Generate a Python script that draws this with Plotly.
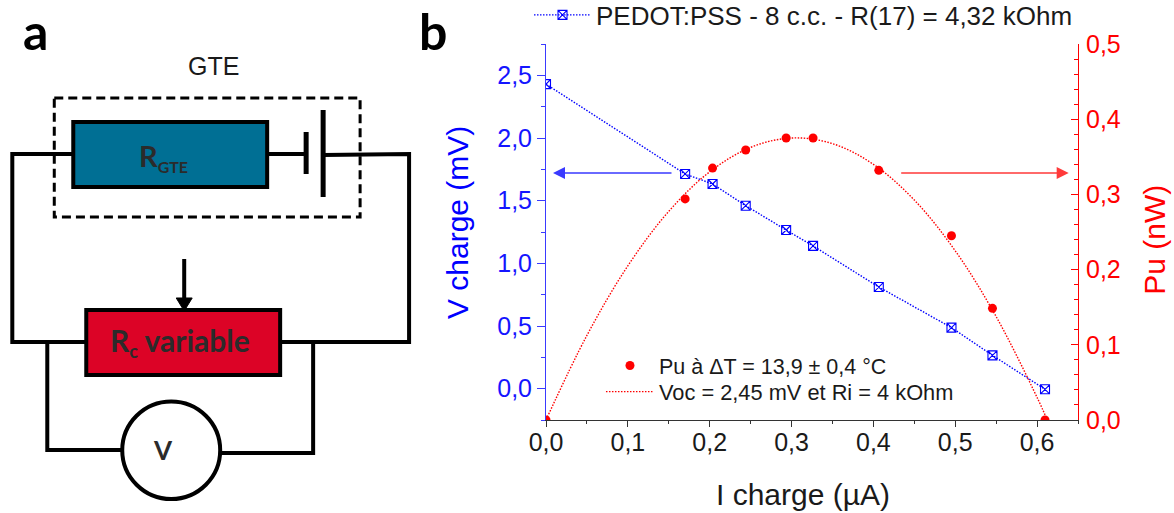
import plotly.graph_objects as go

# ---- data ----
i_charge = [0.0, 0.170, 0.2035, 0.244, 0.2934, 0.3263, 0.4066, 0.4954, 0.5455, 0.6097]
v_charge = [2.43, 1.713, 1.633, 1.46, 1.266, 1.139, 0.811, 0.487, 0.266, -0.005]
pu = [0.0, 0.294, 0.335, 0.359, 0.375, 0.375, 0.332, 0.245, 0.1485, 0.0]
fit_i = [0.0, 0.05, 0.10, 0.15, 0.20, 0.25, 0.30, 0.35, 0.40, 0.45, 0.50, 0.55, 0.60, 0.6125]
fit_pu = [0.0, 0.1125, 0.205, 0.2775, 0.33, 0.3625, 0.375, 0.3675, 0.34, 0.2925, 0.225, 0.1375, 0.03, 0.0]

name_v = "PEDOT:PSS - 8 c.c. - R(17) = 4,32 kOhm"
name_pu = "Pu à ΔT = 13,9 ± 0,4 °C"
name_fit = "Voc = 2,45 mV et Ri = 4 kOhm"

W, H = 1174, 513
L, R, T, B = 546.0, 1078.3, 44.0, 420.0
BLUE, RED, INK = "#0000ff", "#ff0000", "#1a1a1a"
FONT = "Liberation Sans"
BOLD = "Lato"
DOT = "1.5px,1.5px"


def fx(px):
    return (px - L) / (R - L)


def fy(py):
    return (B - py) / (B - T)


fig = go.Figure()
fig.add_trace(go.Scatter(
    x=i_charge, y=v_charge, name=name_v, mode="lines+markers", legend="legend", showlegend=True,
    line=dict(color=BLUE, width=1.4, dash=DOT),
    marker=dict(symbol="square-x-open", size=9, color=BLUE, line=dict(width=1.1, color=BLUE)),
))
fig.add_trace(go.Scatter(
    x=i_charge, y=pu, name=name_pu, mode="markers", yaxis="y2", legend="legend2", showlegend=True,
    marker=dict(symbol="circle", size=9, color=RED),
))
fig.add_trace(go.Scatter(
    x=fit_i, y=fit_pu, name=name_fit, mode="lines", yaxis="y2", legend="legend3", showlegend=True,
    line=dict(color=RED, width=1.4, dash=DOT, shape="spline"),
))

shapes = []


def rect(x0, y0, x1, y1, fill="rgba(0,0,0,0)", width=4, dash="solid"):
    shapes.append(dict(type="rect", xref="paper", yref="paper",
                       x0=fx(x0), x1=fx(x1), y0=fy(y0), y1=fy(y1),
                       fillcolor=fill, line=dict(color="#000000", width=width, dash=dash)))


def wire(points, width=4):
    d = "M " + " L ".join(f"{fx(a):.5f} {fy(b):.5f}" for a, b in points)
    shapes.append(dict(type="path", xref="paper", yref="paper", path=d,
                       line=dict(color="#000000", width=width)))


wire([(73, 154), (12, 154), (12, 342), (86, 342)])
wire([(267, 154), (306, 154)])
wire([(323, 155), (409, 154), (409, 342), (280, 342)])
wire([(306, 132), (306, 174)], 5)
wire([(323, 110), (323, 197)], 5)
wire([(47, 342), (47, 450), (122, 450)])
wire([(313, 342), (313, 453), (220, 453)])
wire([(184, 259), (184, 300)], 4)
shapes.append(dict(type="path", xref="paper", yref="paper",
                   path=f"M {fx(176):.5f} {fy(298):.5f} L {fx(192):.5f} {fy(298):.5f} L {fx(184):.5f} {fy(311):.5f} Z",
                   fillcolor="#000000", line=dict(color="#000000", width=1)))
rect(54, 98, 360, 217, width=3, dash="9px,5px")
rect(73, 122, 267, 187, fill="#006f94")
rect(86, 310, 280, 375, fill="#dc0326")
shapes.append(dict(type="circle", xref="paper", yref="paper",
                   x0=fx(122), x1=fx(220), y0=fy(401.5), y1=fy(499),
                   fillcolor="#ffffff", line=dict(color="#000000", width=4)))


def label(px, py, text, size, color=INK, family=FONT, angle=0, weight=None):
    return dict(xref="paper", yref="paper", x=fx(px), y=fy(py), text=text, showarrow=False,
                textangle=angle, xanchor="center", yanchor="middle",
                font=dict(size=size, color=color, family=family, weight=weight))


def arrow(x_tail, x_head, py, color):
    return dict(xref="paper", yref="paper", axref="pixel", ayref="pixel",
                x=fx(x_head), y=fy(py), ax=x_tail - x_head, ay=0, text="",
                showarrow=True, arrowhead=2, arrowsize=1.5, arrowwidth=1.6, arrowcolor=color)


annotations = [
    label(35, 31, "a", 50, "#000000", BOLD, weight=700),
    label(433, 31, "b", 50, "#000000", BOLD, weight=700),
    label(213, 66, "GTE", 25),
    label(163, 157, 'R<sub><span style="font-size:16px">GTE</span></sub>', 29, "#2b2b2b", BOLD, weight=700),
    label(180, 342, 'R<sub><span style="font-size:18px">c</span></sub> variable', 30, "#2b2b2b", BOLD, weight=700),
    label(163, 450, "V", 26, "#2b2b2b", BOLD, weight=700),
    label(457, 223, "V charge (mV)", 30, BLUE, angle=-90),
    label(1155, 240, "Pu (nW)", 30, RED, angle=-90),
    label(803, 494, "I charge (µA)", 30),
    arrow(673, 553, 173, "#3a3aff"),
    arrow(900, 1069, 173, "#ff3a3a"),
]

fig.update_layout(
    width=W, height=H, autosize=False, showlegend=True,
    margin=dict(l=L, r=W - R, t=T, b=H - B, pad=0, autoexpand=False),
    paper_bgcolor="#ffffff", plot_bgcolor="#ffffff",
    separators=", ",
    font=dict(family=FONT, color=INK),
    shapes=shapes, annotations=annotations,
    xaxis=dict(
        range=[0, 0.65], dtick=0.1, tick0=0, tickformat=".1f", showgrid=False, zeroline=False,
        showline=True, linecolor="#333333", linewidth=1, ticks="outside", ticklen=6,
        tickcolor="#333333", tickfont=dict(size=25, color=INK), ticklabelstandoff=-6,
        minor=dict(dtick=0.05, ticks="outside", ticklen=3, tickcolor="#333333"),
    ),
    yaxis=dict(
        range=[-0.25, 2.75], dtick=0.5, tick0=0, tickformat=".1f", showgrid=False, zeroline=False,
        showline=True, linecolor="#3a3aff", linewidth=1, ticks="outside", ticklen=8,
        tickcolor="#3a3aff", tickfont=dict(size=25, color="#1515ff"),
        minor=dict(dtick=0.25, ticks="outside", ticklen=4, tickcolor="#3a3aff"),
    ),
    yaxis2=dict(
        range=[0, 0.5], dtick=0.1, tick0=0, tickformat=".1f", showgrid=False, zeroline=False,
        overlaying="y", side="right", showline=True, linecolor=RED, linewidth=1,
        ticks="inside", ticklen=7, tickcolor=RED, tickfont=dict(size=25, color=RED), ticklabelstandoff=2,
        minor=dict(dtick=0.02, ticks="inside", ticklen=4, tickcolor=RED),
    ),
    legend=dict(x=fx(529), y=fy(15), xanchor="left", yanchor="middle", bgcolor="rgba(0,0,0,0)",
                itemwidth=57, font=dict(size=26, color=INK, family=FONT)),
    legend2=dict(x=fx(601), y=fy(345), xanchor="left", yanchor="top", bgcolor="rgba(0,0,0,0)",
                 itemwidth=48, font=dict(size=21.5, color=INK, family=FONT)),
    legend3=dict(x=fx(601), y=fy(371), xanchor="left", yanchor="top", bgcolor="rgba(0,0,0,0)",
                 itemwidth=48, font=dict(size=21.8, color=INK, family=FONT)),
)

fig.write_html("out.html", config=dict(displayModeBar=False),
               post_script="document.body.style.margin='0';document.body.style.overflow='hidden';")
